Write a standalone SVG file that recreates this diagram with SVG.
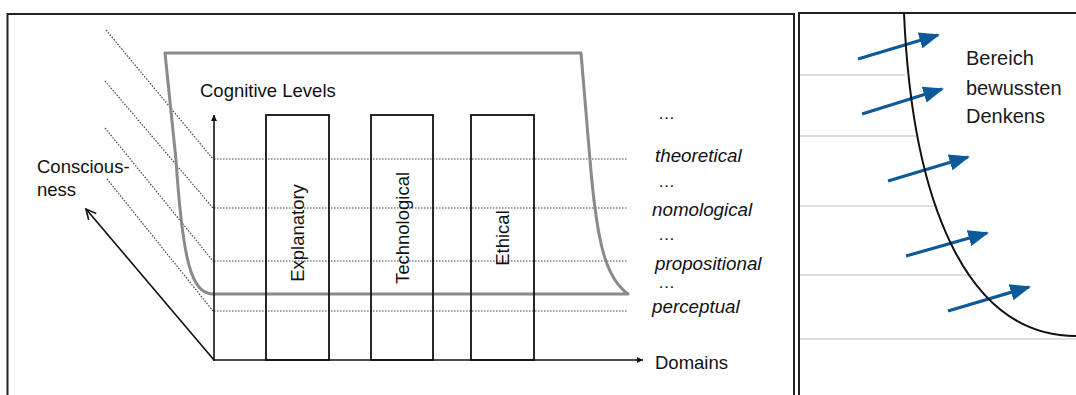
<svg xmlns="http://www.w3.org/2000/svg" width="1076" height="395" viewBox="0 0 1076 395">
<style>
text{font-family:"Liberation Sans",Arial,sans-serif;fill:#111}
.lbl{font-size:18.5px}
.it{font-size:18.8px;font-style:italic}
.rot{font-size:18.5px}
.frame{fill:none;stroke:#222;stroke-width:2}
.box{fill:none;stroke:#111;stroke-width:1.8}
.dot{fill:none;stroke:#444;stroke-width:1.2;stroke-dasharray:1.5 1.5}
.gray{fill:none;stroke:#8a8a8a;stroke-width:3;stroke-linejoin:round}
.axis{fill:none;stroke:#111;stroke-width:1.6}
.thin{fill:none;stroke:#bdbdbd;stroke-width:1.2}
.blue{fill:none;stroke:#0d5a9a;stroke-width:3.2}
.right{font-size:20px;fill:#1a1a1a}
</style>
<defs>
<marker id="tri" viewBox="0 0 10 10" refX="10" refY="5" markerWidth="6" markerHeight="6" orient="auto" markerUnits="userSpaceOnUse">
<path d="M0,0 L10,5 L0,10 z" fill="#111"/>
</marker>
<marker id="open" viewBox="0 0 12 12" refX="11" refY="6" markerWidth="12" markerHeight="12" orient="auto" markerUnits="userSpaceOnUse">
<path d="M1,1 L11,6 L1,11" fill="none" stroke="#111" stroke-width="1.6"/>
</marker>
<marker id="blueh" viewBox="0 0 10 8" refX="9" refY="4" markerWidth="6.5" markerHeight="5.2" orient="auto">
<path d="M0,0 L10,4 L0,8 z" fill="#0d5a9a"/>
</marker>
</defs>

<g id="frames">
<path class="frame" d="M7.5,396 V14 H794 V396"/>
<path class="frame" d="M799,396 V13 H1077"/>
</g>

<g id="right-gridlines">
<line class="thin" x1="800" y1="75" x2="905" y2="75"/>
<line class="thin" x1="800" y1="136" x2="916" y2="136"/>
<line class="thin" x1="800" y1="206" x2="938" y2="206"/>
<line class="thin" x1="800" y1="275" x2="976" y2="275"/>
<line class="thin" x1="800" y1="339" x2="1076" y2="339"/>
</g>

<g id="diagonal-dotted">
<line class="dot" x1="106" y1="30" x2="213" y2="159"/>
<line class="dot" x1="105" y1="81" x2="213" y2="208"/>
<line class="dot" x1="105" y1="128" x2="213" y2="261"/>
<line class="dot" x1="107" y1="179" x2="213" y2="311"/>
</g>

<g id="level-lines">
<line class="dot" x1="214" y1="159" x2="627" y2="159"/>
<line class="dot" x1="214" y1="208" x2="627" y2="208"/>
<line class="dot" x1="214" y1="261" x2="627" y2="261"/>
<line class="dot" x1="214" y1="311" x2="627" y2="311"/>
</g>

<g id="consciousness-shape">
<path class="gray" d="M176,160 L165,53 H581 L590,160 C597,245 606,278 628,294 H212 C192,292 183,265 176,160"/>
</g>

<g id="box-explanatory">
<rect class="box" x="266" y="115" width="63" height="245"/>
<text class="rot" transform="translate(304,233) rotate(-90)" text-anchor="middle">Explanatory</text>
</g>
<g id="box-technological">
<rect class="box" x="371" y="115" width="62" height="245"/>
<text class="rot" transform="translate(409,228) rotate(-90)" text-anchor="middle">Technological</text>
</g>
<g id="box-ethical">
<rect class="box" x="471" y="115" width="63" height="245"/>
<text class="rot" transform="translate(509,238) rotate(-90)" text-anchor="middle">Ethical</text>
</g>

<g id="connectors">
<line class="axis" x1="214" y1="361" x2="214" y2="115" marker-end="url(#tri)"/>
<line class="axis" x1="213" y1="360" x2="643" y2="360" marker-end="url(#tri)"/>
<line class="axis" x1="214" y1="360" x2="86" y2="209" marker-end="url(#open)"/>
<line class="blue" x1="858" y1="59" x2="938" y2="35" marker-end="url(#blueh)"/>
<line class="blue" x1="862" y1="114" x2="942" y2="89" marker-end="url(#blueh)"/>
<line class="blue" x1="888" y1="181" x2="968" y2="157" marker-end="url(#blueh)"/>
<line class="blue" x1="906" y1="256" x2="987" y2="233" marker-end="url(#blueh)"/>
<line class="blue" x1="948" y1="311" x2="1029" y2="287" marker-end="url(#blueh)"/>
</g>

<g id="boundary-curve">
<path d="M904,13 C912,200 965,336 1076,336" fill="none" stroke="#111" stroke-width="2"/>
</g>

<g id="labels">
<text class="lbl" x="200" y="97">Cognitive Levels</text>
<text class="lbl" x="37" y="173">Conscious-</text>
<text class="lbl" x="37" y="196">ness</text>
<text class="lbl" x="655" y="369">Domains</text>
<text class="lbl" x="658" y="119" style="font-size:17px">…</text>
<text class="it" x="655" y="162">theoretical</text>
<text class="lbl" x="658" y="187" style="font-size:17px">…</text>
<text class="it" x="652" y="216">nomological</text>
<text class="lbl" x="658" y="240" style="font-size:17px">…</text>
<text class="it" x="655" y="270">propositional</text>
<text class="lbl" x="658" y="288" style="font-size:17px">…</text>
<text class="it" x="652" y="313">perceptual</text>
</g>

<g id="right-label">
<text class="right" x="966" y="65">Bereich</text>
<text class="right" x="966" y="95">bewussten</text>
<text class="right" x="966" y="123">Denkens</text>
</g>
</svg>
